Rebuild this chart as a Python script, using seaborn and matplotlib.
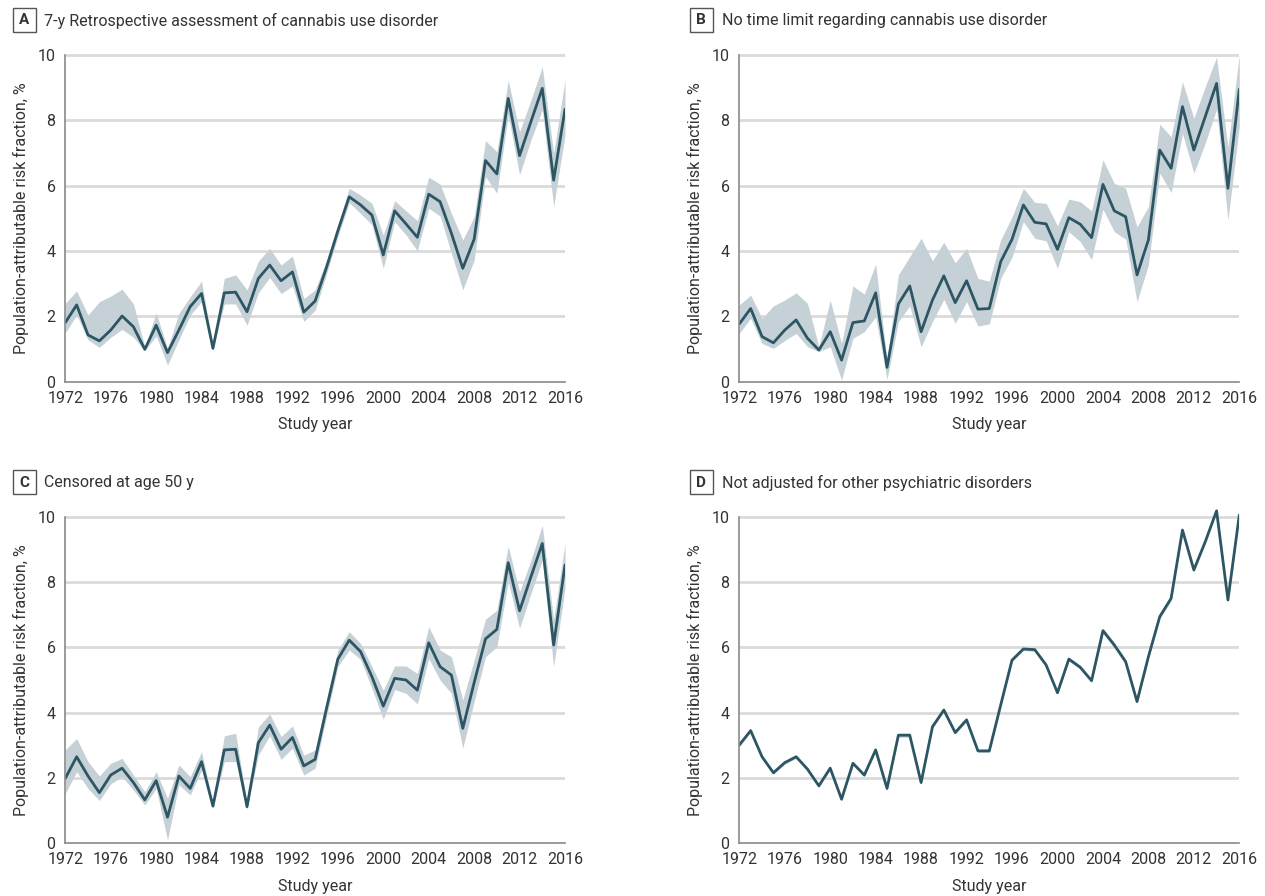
import matplotlib
matplotlib.use("Agg")
import matplotlib.pyplot as plt
from matplotlib.patches import Rectangle
import pandas as pd
import seaborn as sns

# Study years
years = list(range(1972, 2017))

# Panel A: 7-y retrospective assessment of cannabis use disorder
a_est = [1.81, 2.35, 1.43, 1.25, 1.58, 2.01, 1.68, 0.99, 1.73, 0.89,
         1.58, 2.30, 2.70, 1.02, 2.72, 2.74, 2.14, 3.16, 3.57, 3.09,
         3.36, 2.13, 2.47, 3.50, 4.62, 5.66, 5.41, 5.10, 3.88, 5.23,
         4.83, 4.42, 5.74, 5.51, 4.54, 3.47, 4.36, 6.77, 6.36, 8.67,
         6.92, 7.96, 8.98, 6.17, 8.34]
a_lo = [1.50, 2.04, 1.28, 1.05, 1.36, 1.60, 1.36, 0.95, 1.40, 0.51,
        1.28, 2.04, 2.45, 0.99, 2.38, 2.38, 1.73, 2.72, 3.19, 2.70,
        2.93, 1.84, 2.19, 3.30, 4.44, 5.48, 5.15, 4.80, 3.47, 4.90,
        4.49, 4.01, 5.31, 5.07, 3.93, 2.81, 3.72, 6.28, 5.77, 8.16,
        6.33, 7.40, 8.32, 5.36, 7.55]
a_hi = [2.40, 2.78, 2.04, 2.45, 2.62, 2.83, 2.38, 1.07, 2.11, 1.02,
        2.09, 2.60, 3.08, 1.07, 3.16, 3.27, 2.81, 3.69, 4.08, 3.57,
        3.85, 2.55, 2.81, 3.72, 4.80, 5.92, 5.71, 5.46, 4.49, 5.54,
        5.23, 4.93, 6.26, 6.05, 5.15, 4.34, 5.05, 7.38, 7.04, 9.23,
        7.65, 8.62, 9.64, 6.99, 9.23]

# Panel B: no time limit regarding cannabis use disorder
b_est = [1.77, 2.24, 1.38, 1.19, 1.58, 1.89, 1.33, 0.97, 1.53, 0.66,
         1.81, 1.86, 2.72, 0.44, 2.38, 2.93, 1.53, 2.50, 3.24, 2.42,
         3.09, 2.22, 2.24, 3.67, 4.36, 5.41, 4.88, 4.83, 4.05, 5.02,
         4.82, 4.41, 6.04, 5.23, 5.05, 3.27, 4.34, 7.09, 6.53, 8.42,
         7.09, 8.11, 9.13, 5.92, 8.95]
b_lo = [1.48, 1.94, 1.17, 1.02, 1.26, 1.48, 1.07, 0.92, 1.07, 0.05,
        1.33, 1.53, 1.99, 0.07, 1.84, 2.32, 1.07, 1.84, 2.52, 1.79,
        2.45, 1.70, 1.77, 3.16, 3.81, 4.90, 4.39, 4.31, 3.47, 4.59,
        4.29, 3.74, 5.28, 4.59, 4.36, 2.45, 3.57, 6.38, 5.79, 7.60,
        6.38, 7.30, 8.34, 4.95, 7.81]
b_hi = [2.35, 2.65, 1.94, 2.32, 2.50, 2.72, 2.40, 1.07, 2.50, 1.17,
        2.93, 2.68, 3.60, 0.66, 3.27, 3.83, 4.39, 3.70, 4.27, 3.64,
        4.08, 3.16, 3.08, 4.34, 5.05, 5.92, 5.49, 5.46, 4.77, 5.59,
        5.51, 5.23, 6.79, 6.07, 5.92, 4.74, 5.36, 7.88, 7.50, 9.18,
        8.06, 9.03, 9.93, 7.19, 10.00]

# Panel C: censored at age 50 y
c_est = [1.99, 2.65, 2.06, 1.55, 2.09, 2.30, 1.86, 1.33, 1.92, 0.80,
         2.06, 1.68, 2.50, 1.14, 2.86, 2.88, 1.12, 3.08, 3.62, 2.88,
         3.24, 2.37, 2.57, 4.13, 5.64, 6.22, 5.87, 5.10, 4.20, 5.05,
         5.00, 4.69, 6.14, 5.41, 5.15, 3.52, 4.92, 6.26, 6.55, 8.59,
         7.12, 8.16, 9.18, 6.07, 8.52]
c_lo = [1.53, 2.19, 1.68, 1.31, 1.82, 2.04, 1.63, 1.17, 1.68, 0.10,
        1.79, 1.48, 2.24, 1.07, 2.50, 2.50, 1.04, 2.70, 3.29, 2.57,
        2.91, 2.09, 2.30, 3.88, 5.41, 5.92, 5.63, 4.74, 3.80, 4.71,
        4.59, 4.27, 5.66, 5.00, 4.59, 2.91, 4.34, 5.71, 6.02, 8.01,
        6.58, 7.65, 8.67, 5.41, 7.81]
c_hi = [2.86, 3.21, 2.50, 2.06, 2.45, 2.60, 2.09, 1.58, 2.19, 1.38,
        2.40, 2.04, 2.81, 1.22, 3.29, 3.37, 1.22, 3.57, 3.96, 3.27,
        3.59, 2.70, 2.86, 4.39, 5.92, 6.48, 6.12, 5.41, 4.69, 5.43,
        5.43, 5.20, 6.63, 5.92, 5.71, 4.39, 5.61, 6.86, 7.14, 9.10,
        7.70, 8.67, 9.74, 6.84, 9.18]

# Panel D: not adjusted for other psychiatric disorders
d_est = [3.01, 3.45, 2.65, 2.16, 2.47, 2.65, 2.27, 1.76, 2.30, 1.35,
         2.45, 2.09, 2.86, 1.68, 3.31, 3.31, 1.86, 3.57, 4.08, 3.39,
         3.78, 2.83, 2.83, 4.23, 5.61, 5.95, 5.93, 5.46, 4.61, 5.64,
         5.39, 4.98, 6.51, 6.07, 5.56, 4.34, 5.71, 6.94, 7.50, 9.59,
         8.37, 9.23, 10.18, 7.45, 10.05]
d_lo = [2.96, 3.40, 2.60, 2.11, 2.42, 2.60, 2.22, 1.71, 2.25, 1.30,
        2.40, 2.04, 2.81, 1.63, 3.25, 3.25, 1.81, 3.52, 4.03, 3.34,
        3.73, 2.78, 2.78, 4.18, 5.56, 5.90, 5.88, 5.41, 4.56, 5.58,
        5.33, 4.92, 6.43, 5.99, 5.48, 4.29, 5.65, 6.87, 7.43, 9.53,
        8.31, 9.17, 10.11, 7.39, 9.98]
d_hi = [3.06, 3.50, 2.70, 2.21, 2.52, 2.70, 2.32, 1.81, 2.35, 1.40,
        2.50, 2.14, 2.91, 1.73, 3.37, 3.37, 1.91, 3.62, 4.13, 3.44,
        3.83, 2.88, 2.88, 4.28, 5.66, 6.00, 5.98, 5.51, 4.66, 5.70,
        5.45, 5.04, 6.59, 6.15, 5.64, 4.39, 5.77, 7.01, 7.57, 9.65,
        8.43, 9.29, 10.25, 7.51, 10.12]

panel_letters = ["A", "B", "C", "D"]
panel_titles = [
    "7-y Retrospective assessment of cannabis use disorder",
    "No time limit regarding cannabis use disorder",
    "Censored at age 50 y",
    "Not adjusted for other psychiatric disorders",
]
y_ticks = [0, 2, 4, 6, 8, 10]
x_tick_labels = [str(y) if (y - 1972) % 4 == 0 else "" for y in years]

LINE = "#2c5664"
BAND = "#c6d1d7"
GRID = "#dadada"
SPINE = "#8a8a8a"
TEXT = "#333333"

sns.set_theme(style="white")
plt.rcParams["font.family"] = ["Roboto", "DejaVu Sans"]

W, H = 1265, 896
fig = plt.figure(figsize=(W / 100, H / 100), dpi=100)
fig.patch.set_facecolor("white")

YMAX = 10.4


def make_axes(left, right, y10, y0):
    unit = (y0 - y10) / 10.0
    top = y0 - YMAX * unit
    return fig.add_axes([left / W, 1 - y0 / H, (right - left) / W, (y0 - top) / H])


layout = [
    # left px, right px, row of 10, row of 0, box x0, box y0, title x
    (65.3, 565.0, 55.0, 381.7, 12.5, 8.5, 44.0),
    (739.3, 1239.3, 55.0, 381.7, 689.5, 8.5, 721.5),
    (65.3, 565.0, 516.7, 843.3, 12.5, 470.5, 44.0),
    (739.3, 1239.3, 516.7, 843.3, 689.5, 470.5, 721.5),
]

series = [
    (a_est, a_lo, a_hi),
    (b_est, b_lo, b_hi),
    (c_est, c_lo, c_hi),
    (d_est, d_lo, d_hi),
]

for i, ((left, right, y10, y0, bx, by, tx), (est, lo, hi)) in enumerate(zip(layout, series)):
    ax = make_axes(left, right, y10, y0)
    df = pd.DataFrame({"year": years, "est": est, "lo": lo, "hi": hi})

    ax.fill_between(df["year"], df["lo"], df["hi"], color=BAND, lw=0, zorder=2)
    sns.lineplot(data=df, x="year", y="est", ax=ax, color=LINE, lw=2.0,
                 zorder=3, errorbar=None)

    ax.set_xlim(1972, 2016)
    ax.set_ylim(0, YMAX)
    ax.set_yticks(y_ticks)
    ax.set_yticklabels([str(t) for t in y_ticks])
    ax.set_xticks(years)
    ax.set_xticklabels(x_tick_labels)

    for t in y_ticks[1:]:
        ax.axhline(t, color=GRID, lw=2.0, zorder=1)

    for side in ("top", "right"):
        ax.spines[side].set_visible(False)
    for side in ("left", "bottom"):
        ax.spines[side].set_color(SPINE)
        ax.spines[side].set_linewidth(1.2)
        ax.spines[side].set_zorder(4)
    ax.spines["left"].set_bounds(0, 10)

    ax.tick_params(axis="both", which="major", direction="out", length=5,
                   width=1.0, color="#444444", labelsize=11.5, labelcolor=TEXT,
                   pad=2)
    ax.tick_params(axis="x", pad=1.5)

    ax.set_xlabel("Study year", fontsize=11.5, color=TEXT)
    ax.set_ylabel("Population-attributable risk fraction, %", fontsize=11.5, color=TEXT)
    axh = YMAX * (y0 - y10) / 10.0
    ax.xaxis.set_label_coords(0.5, -42.8 / axh)
    ax.xaxis.label.set_verticalalignment("center")
    ax.yaxis.set_label_coords(-(left - (left - 44.3)) / (right - left), 5.0 / YMAX)
    ax.yaxis.label.set_verticalalignment("center")

    # panel letter in a small box, then the title
    fig.patches.append(Rectangle((bx / W, 1 - (by + 24) / H), 23 / W, 24 / H,
                                 transform=fig.transFigure, fill=False,
                                 ec="#555555", lw=1.0))
    fig.text((bx + 11.5) / W, 1 - (by + 12) / H, panel_letters[i],
             ha="center", va="center", fontsize=11, fontweight="bold", color=TEXT)
    fig.text(tx / W, 1 - (by + 12) / H, panel_titles[i],
             ha="left", va="center", fontsize=11.5, color=TEXT)

fig.savefig("out.png", dpi=100, facecolor="white")
